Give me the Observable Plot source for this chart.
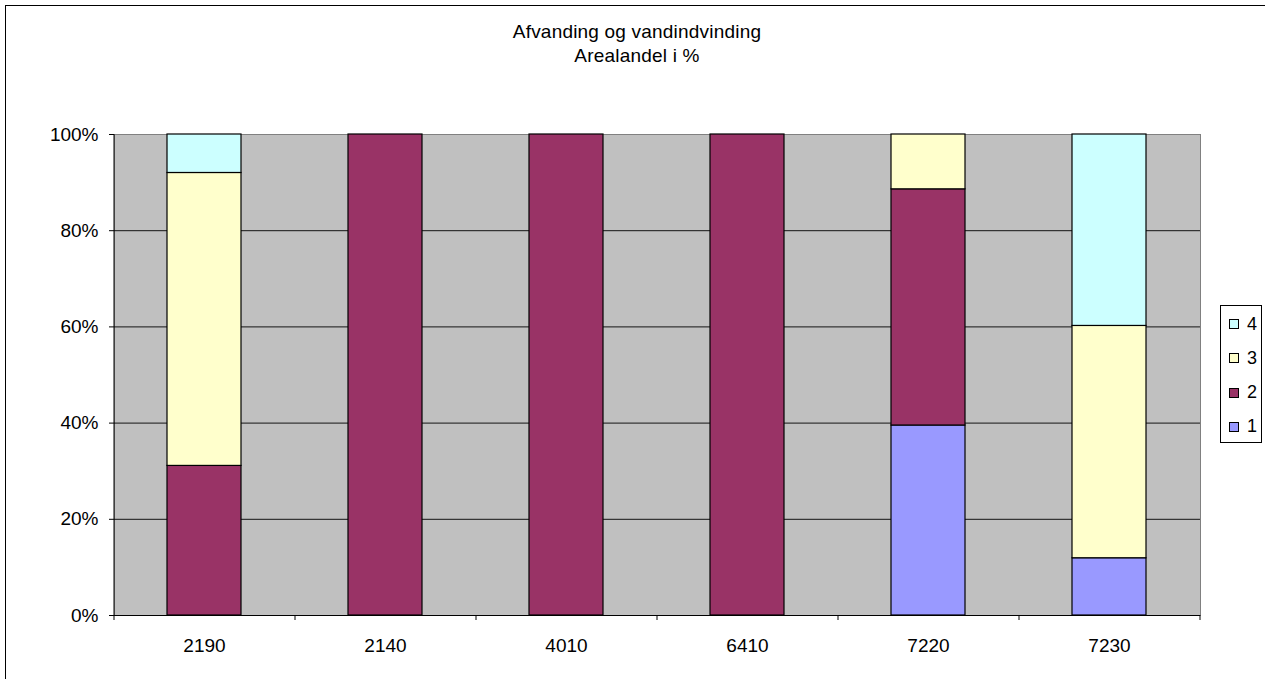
<!DOCTYPE html>
<html>
<head>
<meta charset="utf-8">
<script src="https://cdn.jsdelivr.net/npm/d3@7"></script>
<script src="https://cdn.jsdelivr.net/npm/@observablehq/plot@0.6"></script>
<style>
  html, body { margin: 0; padding: 0; background: #fff; overflow: hidden; }
  body { width: 1265px; height: 679px; position: relative; font-family: "Liberation Sans", Arial, sans-serif; }
  #border { position: absolute; left: 5px; top: 5px; width: 1400px; height: 800px; border: 1px solid #000; box-sizing: border-box; }
  #chart { position: absolute; left: 0; top: 0; }
  #title { position: absolute; left: 337px; top: 20px; width: 600px; text-align: center; font-size: 19px; line-height: 24px; color: #000; letter-spacing: 0.2px; }
  #legend { position: absolute; left: 1220px; top: 305px; width: 42px; height: 138px; border: 1px solid #000; box-sizing: border-box; background: #fff; }
  .item { position: absolute; left: 8px; height: 20px; display: flex; align-items: center; font-size: 18px; }
  .sw { width: 8px; height: 8px; border: 1px solid #000; margin-right: 8px; }
</style>
</head>
<body>
<div id="border"></div>
<div id="chart"></div>
<div id="title">Afvanding og vandindvinding<br>Arealandel i %</div>
<div id="legend"></div>
<script>
const categories = ["2190", "2140", "4010", "6410", "7220", "7230"];
const seriesNames = ["1", "2", "3", "4"];
const seriesColors = ["#9999FF", "#993366", "#FFFFCC", "#CCFFFF"];
const series1 = [0, 0, 0, 0, 39.5, 11.9];
const series2 = [31.1, 100, 100, 100, 49.1, 0];
const series3 = [60.9, 0, 0, 0, 11.4, 48.3];
const series4 = [8.0, 0, 0, 0, 0, 39.8];
const yTicks = [0, 20, 40, 60, 80, 100];

const allSeries = [series1, series2, series3, series4];
const rows = [];
categories.forEach((c, i) => {
  allSeries.forEach((s, j) => {
    if (s[i] > 0) rows.push({cat: c, series: seriesNames[j], value: s[i]});
  });
});

const W = 1265, H = 679, mL = 114, mR = 65, mT = 134, mB = 64;
const step = (W - mL - mR) / categories.length;

const plot = Plot.plot({
  width: W, height: H,
  marginLeft: mL, marginRight: mR, marginTop: mT, marginBottom: mB,
  style: {fontFamily: "'Liberation Sans', Arial, sans-serif", fontSize: "19px", color: "#000", background: "transparent"},
  x: {domain: categories, paddingInner: 0.59, paddingOuter: 0.295, label: null},
  y: {domain: [0, 100], label: null},
  color: {domain: seriesNames, range: seriesColors},
  marks: [
    Plot.frame({fill: "#c0c0c0", stroke: "#808080"}),
    Plot.gridY(yTicks.filter(t => t > 0 && t < 100), {stroke: "#000", strokeOpacity: 0.9}),
    Plot.barY(rows, Plot.stackY({x: "cat", y: "value", fill: "series", stroke: "#000", strokeWidth: 1.2})),
    Plot.ruleY([0], {stroke: "#000"}),
    Plot.ruleX([categories[0]], {x: d => d, dx: -step / 2, stroke: "#000"}),
    Plot.ruleX(categories, {x: d => d, dx: -step / 2, y1: 0, y2: -1.04, stroke: "#000"}),
    Plot.ruleX([categories[categories.length - 1]], {x: d => d, dx: step / 2, y1: 0, y2: -1.04, stroke: "#000"}),
    Plot.axisY({ticks: yTicks, tickSize: 5, tickPadding: 11, tickFormat: d => d + "%", fontSize: 19, label: null}),
    Plot.axisX({tickSize: 0, tickPadding: 23, fontSize: 19, label: null})
  ]
});
document.getElementById("chart").appendChild(plot);

const legend = document.getElementById("legend");
const order = seriesNames.slice().reverse();
order.forEach((name, k) => {
  const idx = seriesNames.indexOf(name);
  const it = document.createElement("div");
  it.className = "item";
  it.style.top = (8 + k * 34.3) + "px";
  const sw = document.createElement("div");
  sw.className = "sw";
  sw.style.background = seriesColors[idx];
  const tx = document.createElement("span");
  tx.textContent = name;
  it.appendChild(sw);
  it.appendChild(tx);
  legend.appendChild(it);
});
</script>
</body>
</html>
